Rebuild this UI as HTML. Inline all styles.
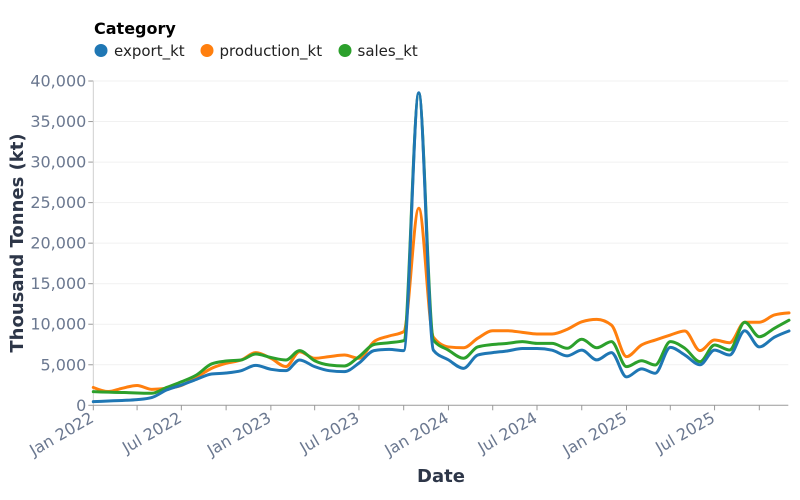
<!DOCTYPE html>
<html>
<head>
<meta charset="utf-8">
<style>
  html, body { margin: 0; padding: 0; background: #ffffff; }
  body { width: 800px; height: 500px; overflow: hidden; }
  svg { display: block; font-family: "DejaVu Sans", "Liberation Sans", sans-serif; }
  .tl { font-size: 16px; fill: #6b7890; }
  .ttl { font-size: 18px; font-weight: bold; fill: #2d3648; }
</style>
</head>
<body>
<svg id="chart" width="800" height="500" viewBox="0 0 800 500" xmlns="http://www.w3.org/2000/svg">
  <!-- Legend -->
  <text x="94" y="34" style="font-size:16px;font-weight:bold;fill:#000">Category</text>
  <circle cx="101" cy="50.5" r="6.5" fill="#1f77b4"/>
  <text x="114" y="56" style="font-size:15px;fill:#222">export_kt</text>
  <circle cx="207" cy="50.5" r="6.5" fill="#ff7f0e"/>
  <text x="219.5" y="56" style="font-size:15px;fill:#222">production_kt</text>
  <circle cx="345" cy="50.5" r="6.5" fill="#2ca02c"/>
  <text x="357.5" y="56" style="font-size:15px;fill:#222">sales_kt</text>

  <g id="grid"></g>
  <g id="axes"></g>
  <g id="lines"></g>

  <!-- Axis titles -->
  <text class="ttl" x="441" y="482" text-anchor="middle">Date</text>
  <text class="ttl" transform="translate(23,243) rotate(-90)" text-anchor="middle">Thousand Tonnes (kt)</text>
</svg>
<script>
(function(){
  var NS = "http://www.w3.org/2000/svg";
  var X0 = 93.3, PXD = 0.4865, Y0 = 405.3, PXK = 8.107;
  function el(tag, attrs, parent, txt){
    var e = document.createElementNS(NS, tag);
    for (var k in attrs) e.setAttribute(k, attrs[k]);
    if (txt !== undefined) e.textContent = txt;
    parent.appendChild(e); return e;
  }
  var grid = document.getElementById('grid');
  var axes = document.getElementById('axes');
  var lines = document.getElementById('lines');

  // horizontal grid + y ticks
  for (var v = 0; v <= 40; v += 5) {
    var y = Y0 - v * PXK;
    if (v > 0) el('line', {x1: X0, x2: 788.3, y1: y, y2: y, stroke: '#f1f1f1', 'stroke-width': 1}, grid);
    el('line', {x1: X0 - 5, x2: X0, y1: y, y2: y, stroke: '#9a9a9a', 'stroke-width': 1}, axes);
    var lbl = v === 0 ? '0' : (v + ',000');
    el('text', {x: X0 - 7, y: y + 5.5, 'text-anchor': 'end', 'class': 'tl'}, axes, lbl);
  }
  el('line', {x1: X0, x2: X0, y1: 81, y2: Y0, stroke: '#cfcfcf', 'stroke-width': 1}, axes);
  el('line', {x1: X0, x2: 788.3, y1: Y0, y2: Y0, stroke: '#9a9a9a', 'stroke-width': 1}, axes);

  function dayOf(y, m) { // m 0-based
    return (Date.UTC(y, m, 1) - Date.UTC(2022, 0, 1)) / 86400000;
  }
  // x ticks quarterly
  var mon = ['Jan','Feb','Mar','Apr','May','Jun','Jul','Aug','Sep','Oct','Nov','Dec'];
  for (var yr = 2022; yr <= 2025; yr++) {
    for (var q = 0; q < 12; q += 3) {
      var x = X0 + dayOf(yr, q) * PXD;
      el('line', {x1: x, x2: x, y1: Y0, y2: Y0 + 5, stroke: '#9a9a9a', 'stroke-width': 1}, axes);
      if (q === 0 || q === 6) {
        el('text', {'class': 'tl', 'text-anchor': 'end', transform: 'translate(' + (x + 1.5) + ',421) rotate(-30)'}, axes, mon[q] + ' ' + yr);
      }
    }
  }

  var data = {
    production: [2.2,1.7,2.1,2.45,1.97,2.1,2.45,3.45,4.56,5.18,5.59,6.5,
                 5.8,4.77,6.6,5.8,6.0,6.2,5.8,7.85,8.55,9.08,24.3,8.4,
                 7.2,7.1,8.26,9.2,9.2,9.0,8.8,8.8,9.37,10.3,10.6,9.9,
                 6.0,7.44,8.05,8.67,9.17,6.74,8.05,7.72,10.24,10.24,11.14,11.4],
    sales: [1.68,1.62,1.58,1.52,1.48,2.2,2.9,3.74,5.1,5.46,5.59,6.33,
            5.9,5.59,6.74,5.5,4.97,4.85,6.0,7.5,7.72,7.97,38.5,8.05,
            6.8,5.8,7.2,7.5,7.64,7.85,7.64,7.64,7.03,8.14,7.1,7.85,
            4.77,5.5,4.97,7.85,7.03,5.38,7.44,6.82,10.24,8.46,9.5,10.5],
    export: [0.45,0.53,0.6,0.7,0.95,1.9,2.5,3.2,3.86,3.98,4.27,4.93,
             4.44,4.27,5.59,4.77,4.27,4.15,5.2,6.74,6.9,6.74,38.55,6.8,
             5.6,4.56,6.2,6.5,6.7,7.0,7.0,6.8,6.1,6.8,5.6,6.5,
             3.5,4.5,3.95,7.15,6.2,5.0,6.8,6.2,9.2,7.2,8.4,9.17]
  };
  var colors = {production: '#ff7f0e', sales: '#2ca02c', export: '#1f77b4'};

  function monotone(xs, ys) {
    var n = xs.length, m = new Array(n), i;
    for (i = 1; i < n - 1; i++) {
      var h0 = xs[i] - xs[i-1], h1 = xs[i+1] - xs[i];
      var s0 = (ys[i] - ys[i-1]) / h0, s1 = (ys[i+1] - ys[i]) / h1;
      var p = (s0 * h1 + s1 * h0) / (h0 + h1);
      m[i] = (Math.sign(s0) + Math.sign(s1)) * Math.min(Math.abs(s0), Math.abs(s1), 0.5 * Math.abs(p)) || 0;
    }
    m[0] = (3 * (ys[1] - ys[0]) / (xs[1] - xs[0]) - m[1]) / 2;
    m[n-1] = (3 * (ys[n-1] - ys[n-2]) / (xs[n-1] - xs[n-2]) - m[n-2]) / 2;
    var d = 'M' + xs[0].toFixed(2) + ',' + ys[0].toFixed(2);
    for (i = 0; i < n - 1; i++) {
      var dx = (xs[i+1] - xs[i]) / 3;
      d += 'C' + (xs[i] + dx).toFixed(2) + ',' + (ys[i] + dx * m[i]).toFixed(2) + ' ' +
           (xs[i+1] - dx).toFixed(2) + ',' + (ys[i+1] - dx * m[i+1]).toFixed(2) + ' ' +
           xs[i+1].toFixed(2) + ',' + ys[i+1].toFixed(2);
    }
    return d;
  }

  ['production', 'sales', 'export'].forEach(function(key){
    var vals = data[key], xs = [], ys = [];
    for (var i = 0; i < vals.length; i++) {
      var yr = 2022 + Math.floor(i / 12), mo = i % 12;
      xs.push(X0 + dayOf(yr, mo) * PXD);
      ys.push(Y0 - vals[i] * PXK);
    }
    el('path', {d: monotone(xs, ys), fill: 'none', stroke: colors[key], 'stroke-width': 3, 'stroke-linejoin': 'round', 'stroke-linecap': 'round'}, lines);
  });
})();
</script>
</body>
</html>
